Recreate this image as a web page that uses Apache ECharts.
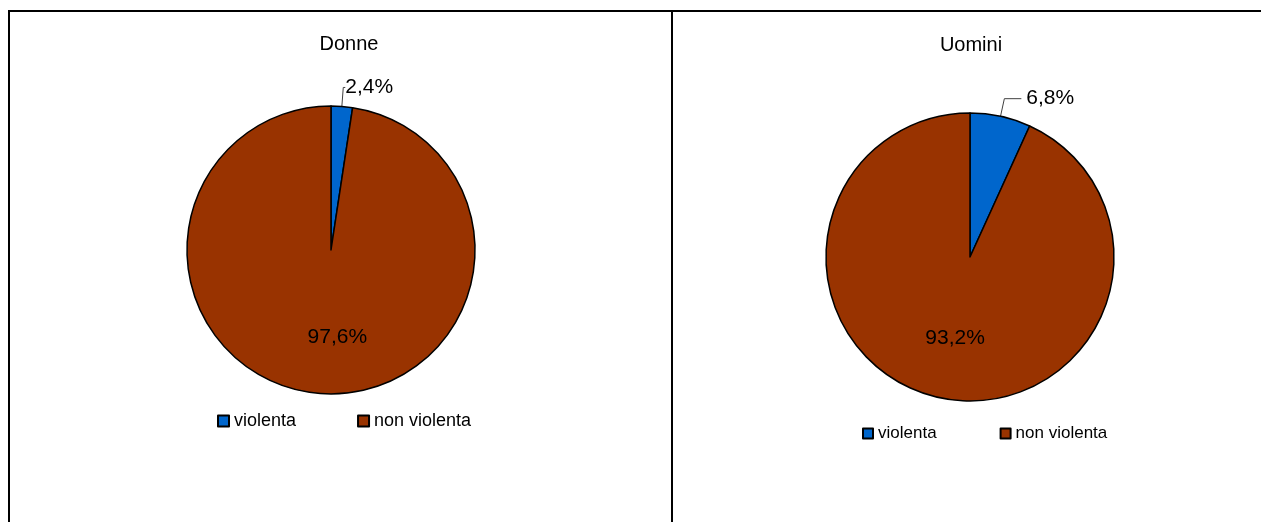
<!DOCTYPE html>
<html>
<head>
<meta charset="utf-8">
<script src="https://cdn.jsdelivr.net/npm/echarts@6/dist/echarts.min.js"></script>
<style>
html,body{margin:0;padding:0;background:#fff;}
#c{width:1261px;height:522px;}
</style>
</head>
<body>
<div id="c"></div>
<script>
var categories = ['violenta', 'non violenta'];
var titles = ['Donne', 'Uomini'];
var donneValues = [2.4, 97.6];
var uominiValues = [6.8, 93.2];
var colors = ['#0066CC', '#993300'];

function fmt(v) { return v.toFixed(1).replace('.', ',') + '%'; }

function buildData(values, smallLabel, bigOffset) {
  return values.map(function (v, i) {
    var item = { name: categories[i], value: v, itemStyle: { color: colors[i] } };
    if (i === 0) {
      item.label = {
        position: 'outside',
        distanceToLabelLine: smallLabel.dist,
        alignTo: 'none'
      };
      item.labelLine = { show: true, length: smallLabel.length, length2: smallLabel.length2,
        lineStyle: { color: '#404040', width: 1 } };
    } else {
      item.label = { position: 'inside', offset: bigOffset };
      item.labelLine = { show: false };
    }
    return item;
  });
}

var chart = echarts.init(document.getElementById('c'), null, { renderer: 'canvas' });

var FONT = 'Liberation Sans, Arial, sans-serif';

var commonSeries = {
  type: 'pie',
  radius: 144,
  startAngle: 90,
  clockwise: true,
  animation: false,
  silent: true,
  avoidLabelOverlap: false,
  itemStyle: { borderColor: '#000', borderWidth: 1.5 },
  label: {
    show: true,
    color: '#000',
    fontFamily: FONT,
    fontSize: 21,
    formatter: function (p) { return fmt(p.value); }
  },
  emphasis: { disabled: true }
};

var option = {
  backgroundColor: '#fff',
  animation: false,
  title: [
    { text: titles[0], left: 344, top: 29, textAlign: 'center',
      textStyle: { fontFamily: FONT, fontSize: 20, fontWeight: 'normal', color: '#000' } },
    { text: titles[1], left: 966, top: 30, textAlign: 'center',
      textStyle: { fontFamily: FONT, fontSize: 20, fontWeight: 'normal', color: '#000' } }
  ],
  legend: [
    { data: categories, left: 212, top: 407, orient: 'horizontal', icon: 'rect',
      itemWidth: 11, itemHeight: 11, itemGap: 61, selectedMode: false,
      textStyle: { fontFamily: FONT, fontSize: 18, color: '#000' } },
    { data: categories, left: 857, top: 420, orient: 'horizontal', icon: 'rect',
      itemWidth: 10, itemHeight: 10, itemGap: 63, selectedMode: false,
      textStyle: { fontFamily: FONT, fontSize: 17, color: '#000' } }
  ],
  graphic: [
    { type: 'line', shape: { x1: 8, y1: 11, x2: 1261, y2: 11 }, style: { stroke: '#000', lineWidth: 2 } },
    { type: 'line', shape: { x1: 9, y1: 10, x2: 9, y2: 522 }, style: { stroke: '#000', lineWidth: 2 } },
    { type: 'line', shape: { x1: 672, y1: 10, x2: 672, y2: 522 }, style: { stroke: '#000', lineWidth: 2 } }
  ],
  series: [
    Object.assign({}, commonSeries, {
      name: titles[0],
      center: [331, 250],
      data: buildData(donneValues, { length: 19, length2: 2, dist: 0 }, [12, 12])
    }),
    Object.assign({}, commonSeries, {
      name: titles[1],
      center: [970, 257],
      data: buildData(uominiValues, { length: 18, length2: 17, dist: 5 }, [1, 8])
    })
  ]
};
chart.setOption(option);
</script>
</body>
</html>
